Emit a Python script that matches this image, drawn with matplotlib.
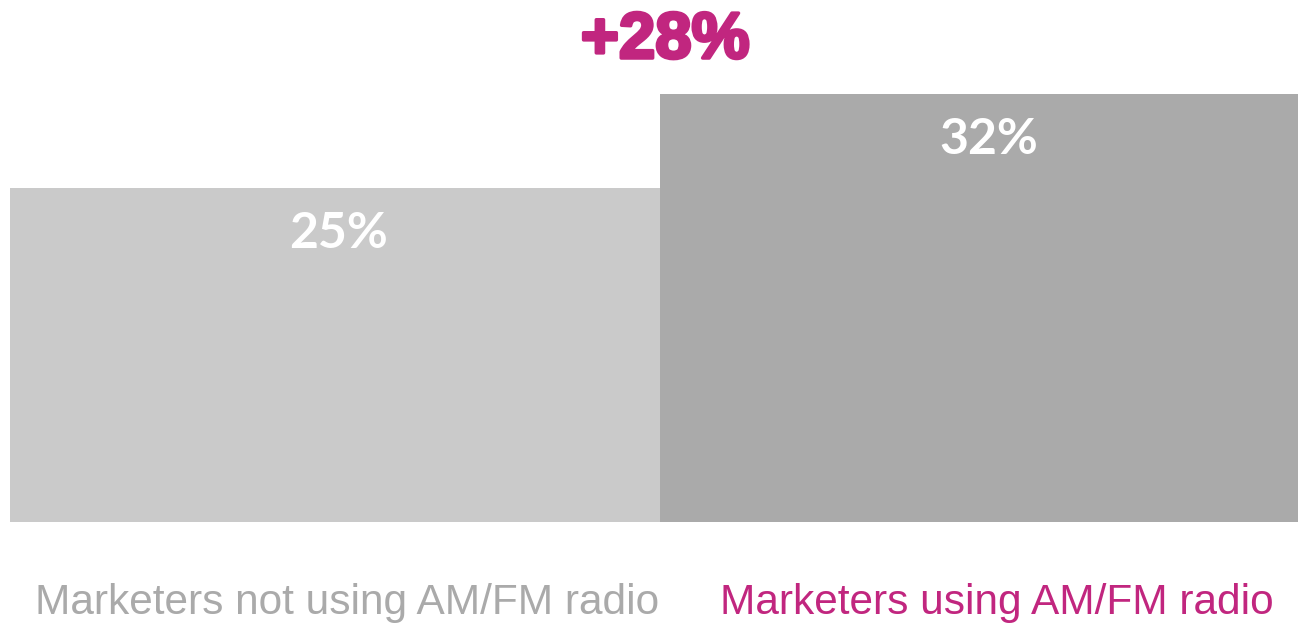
import matplotlib.pyplot as plt
import matplotlib.patheffects as pe

groups = ['Marketers not using AM/FM radio', 'Marketers using AM/FM radio']
shares = [25, 32]
value_labels = ['25%', '32%']
lift_label = '+28%'

bar_colors = ['#cacaca', '#aaaaaa']
label_colors = ['#aaaaaa', '#c1267f']
magenta = '#c1267f'

fig = plt.figure(figsize=(12.99, 6.23), dpi=100)
# axes run from the bar baseline up to the top edge of the figure
ax = fig.add_axes([10 / 1299, 101 / 623, 1288 / 1299, 522 / 623])

xs = range(len(shares))
ax.bar(xs, shares, width=1.0, color=bar_colors, linewidth=0)
# second bar runs off the right edge a little
ax.set_xlim(-0.5, 1.4815)
ax.set_ylim(0, 39.07)
ax.axis('off')

for x, v, lab in zip(xs, shares, value_labels):
    ax.text(x + 0.005, v - 3.4, lab, ha='center', va='center', color='white',
            fontsize=36, fontweight='bold', family='Lato')

# growth label above the two bars
ax.text(0.508, 36.0, lift_label, ha='center', va='center', color=magenta,
        fontsize=47, fontweight='bold', family='Liberation Sans',
        path_effects=[pe.withStroke(linewidth=2.5, foreground=magenta)])

for x, name, c in zip(xs, groups, label_colors):
    ax.text(x + 0.018, -6.1, name, ha='center', va='center', color=c,
            fontsize=30.5, family='Liberation Sans', clip_on=False)

fig.savefig('out.png', dpi=100)
